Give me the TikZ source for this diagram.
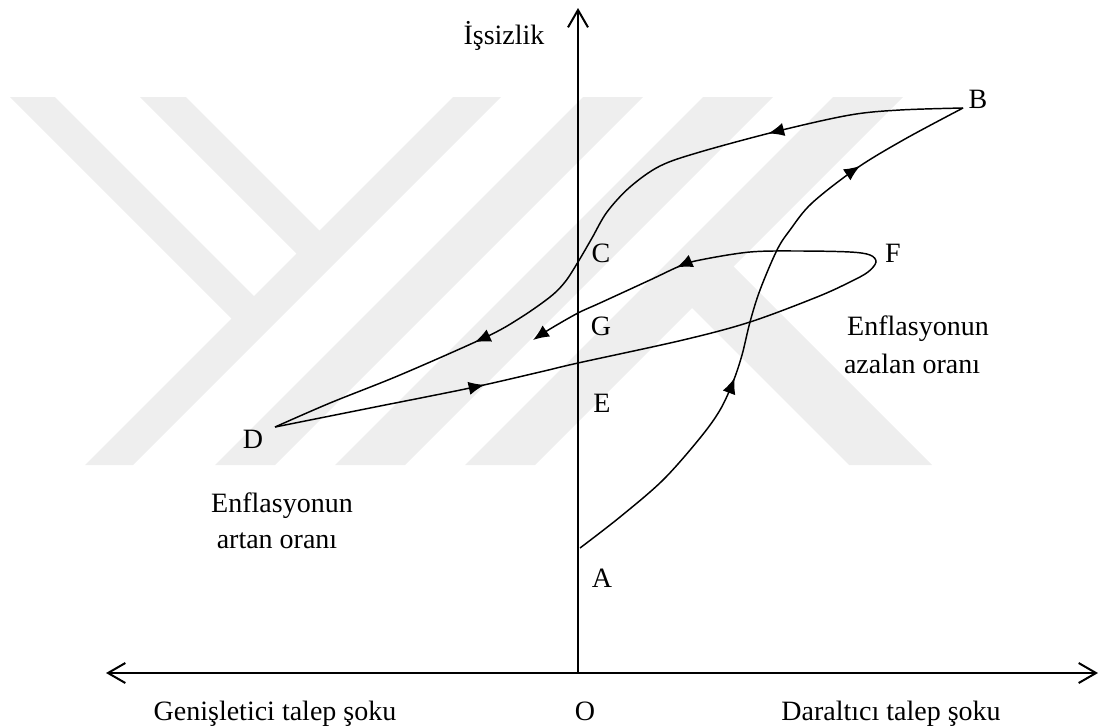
\documentclass[tikz,border=0pt]{standalone}
\usepackage{fontspec}
\setmainfont{Liberation Serif}
\usetikzlibrary{arrows.meta,decorations.markings}
\definecolor{wm}{RGB}{238,238,238}
\begin{document}
\begin{tikzpicture}[x=0.75pt,y=-0.75pt,
  lbl/.style={anchor=base,inner sep=0pt,font=\fontsize{21}{25}\selectfont},
  axisline/.style={line width=1.5pt},
  tipb/.tip={Straight Barb[length=13pt,width=15pt]},
  curve/.style={line width=1.1pt},
  tri/.tip={Latex[length=12pt,width=10pt]},
  wmark/.style={fill=wm,draw=none}]
\useasboundingbox (0,0) rectangle (1102,726);
% watermark
\fill[wmark] (10,97) -- (55,97) -- (266,308) -- (243.5,330.5) -- cycle;
\fill[wmark] (140,97) -- (186,97) -- (331.5,242.5) -- (308.5,265.5) -- cycle;
\fill[wmark] (85,465) -- (133,465) -- (501,97) -- (453,97) -- cycle;
\fill[wmark] (215,465) -- (275,465) -- (643,97) -- (583,97) -- cycle;
\fill[wmark] (335,465) -- (405,465) -- (773,97) -- (703,97) -- cycle;
\fill[wmark] (465,465) -- (535,465) -- (903,97) -- (833,97) -- cycle;
\fill[wmark] (687,303) -- (728.5,261.5) -- (932,465) -- (849,465) -- cycle;
% coordinates
\coordinate (O) at (578,673);
\coordinate (ytop) at (578,8);
\coordinate (xl) at (106,673);
\coordinate (xr) at (1098,673);
\coordinate (A) at (580,548);
\coordinate (B) at (963,108);
\coordinate (D) at (275,427);
\coordinate (Gend) at (533,340);
% axes
\draw[axisline,-tipb] (O) -- (ytop);
\draw[axisline,tipb-tipb] (xl) -- (xr);
% A -> B
\draw[curve,postaction={decorate},decoration={markings,
   mark=at position 0.385 with {\arrow{tri}},
   mark=at position 0.805 with {\arrow{tri}}}]
  plot[smooth,tension=0.55] coordinates {(A) (620,517) (663,480) (700,438) (720,410) (733,382) (742,355) (750,322) (760,290) (777,250) (790,230) (812,203) (857,168) (905,139) (B)};
% B -> C -> D
\draw[curve,postaction={decorate},decoration={markings,
   mark=at position 0.25 with {\arrow{tri}},
   mark=at position 0.725 with {\arrow{tri}}}]
  plot[smooth,tension=0.55] coordinates {(B) (900,110) (850,115) (778,131) (700,152) (660,166) (630,187) (607,212) (592,238) (578,262) (565,282) (550,297) (520,318) (486,337) (400,375) (330,403) (D)};
% D -> E -> F -> G
\draw[curve,-tri,postaction={decorate},decoration={markings,
   mark=at position 0.215 with {\arrow{tri}},
   mark=at position 0.838 with {\arrow{tri}}}]
  plot[smooth,tension=0.55] coordinates {(D) (370,408) (470,388) (540,372) (578,363) (683,340) (750,322) (817,297) (850,282) (868,272) (876,262) (870,255) (850,252) (800,251) (750,252) (700,260) (680,266) (650,280) (600,303) (578,313) (550,329) (Gend)};
% labels
\node[lbl] (lI) at (504,44) {İşsizlik};
\node[lbl] (lB) at (978,108) {B};
\node[lbl] (lC) at (601,262) {C};
\node[lbl] (lF) at (893,262) {F};
\node[lbl] (lG) at (601,335) {G};
\node[lbl] (lE) at (602,412) {E};
\node[lbl] (lD) at (253,448) {D};
\node[lbl] (lA) at (602,587) {A};
\node[lbl] (lO) at (585,720) {O};
\node[lbl] (lgen) at (275,720) {Genişletici talep şoku};
\node[lbl] (ldar) at (891,720) {Daraltıcı talep şoku};
\node[lbl] (laz1) at (918,335) {Enflasyonun};
\node[lbl] (laz2) at (912,373) {azalan oranı};
\node[lbl] (lar1) at (282,512) {Enflasyonun};
\node[lbl] (lar2) at (277,548) {artan oranı};
\end{tikzpicture}
\end{document}
